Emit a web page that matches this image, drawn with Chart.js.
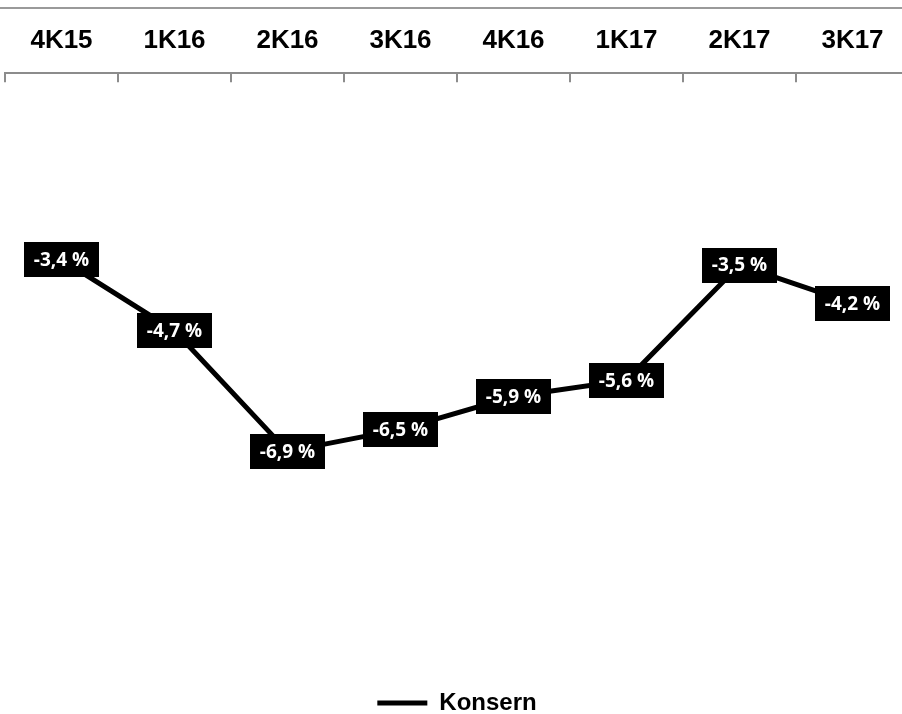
<!DOCTYPE html>
<html>
<head>
<meta charset="utf-8">
<script src="https://cdn.jsdelivr.net/npm/chart.js@4/dist/chart.umd.min.js"></script>
<style>
  html, body { margin: 0; padding: 0; background: #fff; overflow: hidden; }
  canvas { display: block; }
</style>
</head>
<body>
<canvas id="c" width="910" height="714"></canvas>
<script>
// Kvartaler og konsernets verdier (prosent)
const quarters = ["4K15", "1K16", "2K16", "3K16", "4K16", "1K17", "2K17", "3K17"];
const konsern = [-3.4, -4.7, -6.9, -6.5, -5.9, -5.6, -3.5, -4.2];
const seriesName = "Konsern";
const yMin = -11.2;
const yMax = 0;

const fmt = (v) => v.toFixed(1).replace(".", ",") + " %";

// grå linje over kvartalsetikettene + korte innvendige tick-streker på aksen
const axisDecor = {
  id: "axisDecor",
  afterDraw(chart) {
    const { ctx, chartArea } = chart;
    const x = chart.scales.x;
    ctx.save();
    ctx.strokeStyle = "#9a9a9a";
    ctx.lineWidth = 2;
    ctx.beginPath();
    ctx.moveTo(0, x.top);
    ctx.lineTo(chart.width, x.top);
    ctx.stroke();
    const step = x.getPixelForValue(1) - x.getPixelForValue(0);
    ctx.strokeStyle = "#8c8c8c";
    ctx.lineWidth = 2;
    for (let i = 0; i <= quarters.length; i++) {
      const px = Math.round(x.getPixelForValue(i) - step / 2);
      ctx.beginPath();
      ctx.moveTo(px, chartArea.top);
      ctx.lineTo(px, chartArea.top + 9);
      ctx.stroke();
    }
    ctx.restore();
  },
};

// svarte bokser med hvit tekst på hvert punkt
const boxLabels = {
  id: "boxLabels",
  afterDatasetsDraw(chart) {
    const { ctx } = chart;
    const meta = chart.getDatasetMeta(0);
    ctx.save();
    ctx.font = "bold 19px 'Open Sans', sans-serif";
    ctx.textAlign = "center";
    ctx.textBaseline = "middle";
    meta.data.forEach((pt, i) => {
      const txt = fmt(konsern[i]);
      const w = ctx.measureText(txt).width + 20;
      const h = 35;
      ctx.fillStyle = "#000";
      ctx.fillRect(Math.round(pt.x - w / 2), Math.round(pt.y - h / 2), Math.round(w), h);
      ctx.fillStyle = "#fff";
      ctx.fillText(txt, pt.x, pt.y + 1);
    });
    ctx.restore();
  },
};

new Chart(document.getElementById("c"), {
  type: "line",
  data: {
    labels: quarters,
    datasets: [{
      label: seriesName,
      data: konsern,
      borderColor: "#000",
      backgroundColor: "#000",
      borderWidth: 5,
      pointRadius: 0,
      tension: 0,
    }],
  },
  options: {
    responsive: false,
    animation: false,
    layout: { padding: { left: 5, right: 1, top: 8, bottom: -11 } },
    plugins: {
      legend: {
        position: "bottom",
        labels: {
          usePointStyle: true, pointStyle: "line", pointStyleWidth: 50,
          padding: 4, color: "#000",
          font: { family: "'Liberation Sans', Arial, sans-serif", size: 24, weight: "bold" },
        },
      },
      tooltip: { enabled: false },
    },
    scales: {
      x: {
        position: "top",
        offset: true,
        grid: { display: true, drawOnChartArea: false, drawTicks: false },
        border: { display: true, color: "#8c8c8c", width: 2 },
        ticks: {
          padding: 4, maxRotation: 0, autoSkip: false, color: "#000",
          font: { family: "'Liberation Sans', Arial, sans-serif", size: 26, weight: "bold", lineHeight: 2.2 },
        },
      },
      y: { display: false, min: yMin, max: yMax },
    },
  },
  plugins: [axisDecor, boxLabels],
});
</script>
</body>
</html>
